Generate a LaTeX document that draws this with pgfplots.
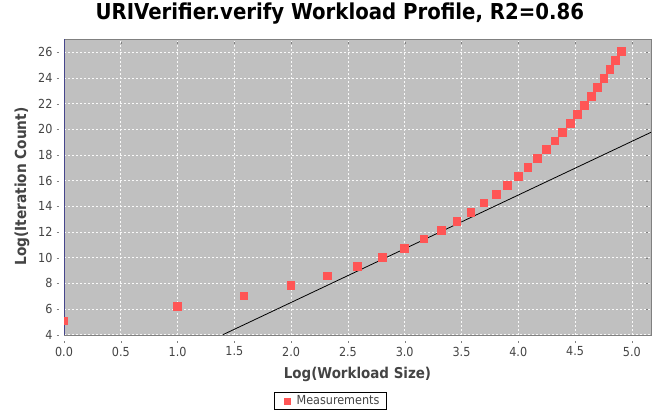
\documentclass[border=0pt]{standalone}
\usepackage{pgfplots}
\pgfplotsset{compat=1.18}
\usepackage{fontspec}
\setmainfont{DejaVu Sans Condensed}
\definecolor{plotbg}{RGB}{192,192,192}
\definecolor{border}{RGB}{128,128,128}
\definecolor{axline}{RGB}{200,200,200}
\definecolor{ticktext}{RGB}{68,68,68}
\definecolor{meas}{RGB}{255,85,85}
\definecolor{zeroline}{RGB}{70,70,140}
\pgfplotsset{every axis title shift=0pt}
\begin{document}
\begin{tikzpicture}[x=1bp,y=1bp]
\useasboundingbox (0,0) rectangle (657,419);
\begin{axis}[
  at={(64bp,83.7bp)}, anchor=south west,
  scale only axis, width=587bp, height=296.3bp,
  xmin=0, xmax=5.169, ymin=3.95, ymax=27.04,
  axis background/.style={fill=plotbg},
  axis line style={border, line width=0.8bp},
  grid=major,
  major grid style={white!90!plotbg, line width=0.6bp, dash pattern=on 2bp off 2bp},
  xtick={0,0.5,...,5.0}, ytick={4,6,...,26},
  xticklabel style={/pgf/number format/fixed, /pgf/number format/fixed zerofill, /pgf/number format/precision=1},
  /pgf/number format/assume math mode=true,
  tick label style={font=\fontsize{12.5}{14}\selectfont, text=ticktext},
  xticklabel style={anchor=north, yshift=-6bp},
  yticklabel style={anchor=east, xshift=-6bp},
  tick align=outside, major tick length=2bp,
  xtick style={border, yshift=-5.4bp},
  ytick style={border, xshift=-5.4bp},
  title={URIVerifier.verify Workload Profile, R2=0.86},
  title style={at={(0.470,1.0665)}, anchor=base, font=\bfseries\fontsize{22}{26}\selectfont},
  xlabel={Log(Workload Size)},
  xlabel style={at={(0.5,-0.1441)}, anchor=base, font=\bfseries\fontsize{15}{18}\selectfont, text=ticktext},
  ylabel={Log(Iteration Count)},
  ylabel style={at={(-0.0647,0.502)}, anchor=base, font=\bfseries\fontsize{15.3}{18}\selectfont, text=ticktext},
  clip marker paths=true,
  legend style={at={(0.454,-0.2214)}, anchor=center, draw=black, line width=0.8bp,
    font=\fontsize{12.5}{14}\selectfont, text=ticktext, inner xsep=5bp, inner ysep=1.5bp,
    legend cell align=left},
  legend image code/.code={\fill[meas, draw=none] (4bp,-3.6bp) rectangle (11bp,3.4bp); \path[draw=none, fill=none] (0bp,0bp) rectangle (15bp,0.1bp);},
]
\draw[zeroline, line width=1bp] (axis cs:0,3.95) -- (axis cs:0,27.04);
\addplot[black, line width=0.8bp, forget plot] coordinates {(1.40,4.0) (5.169,19.77)};
\addplot[only marks, mark=square*, mark size=3.8bp, color=meas, mark options={draw=meas, fill=meas, line width=0pt}]
coordinates {
(0.000,5.07) (1.000,6.19) (1.585,7.02) (2.000,7.85) (2.322,8.58)
(2.585,9.33) (2.807,10.03) (3.000,10.70) (3.170,11.44) (3.322,12.14)
(3.459,12.84) (3.585,13.54) (3.700,14.26) (3.807,14.94) (3.907,15.61)
(4.000,16.31) (4.087,17.01) (4.170,17.71) (4.248,18.41) (4.322,19.09)
(4.392,19.77) (4.459,20.47) (4.524,21.17) (4.585,21.84) (4.644,22.57)
(4.700,23.24) (4.755,23.94) (4.807,24.64) (4.858,25.35) (4.907,26.05)
};
\addlegendentry{Measurements}
\draw[axline, line width=1bp] (rel axis cs:0,0) ++(0,-5.4bp) -- ++(587bp,0);
\draw[axline, line width=1bp] (rel axis cs:0,0) ++(-5.4bp,0) -- ++(0,296.3bp);
\end{axis}
\end{tikzpicture}
\end{document}
